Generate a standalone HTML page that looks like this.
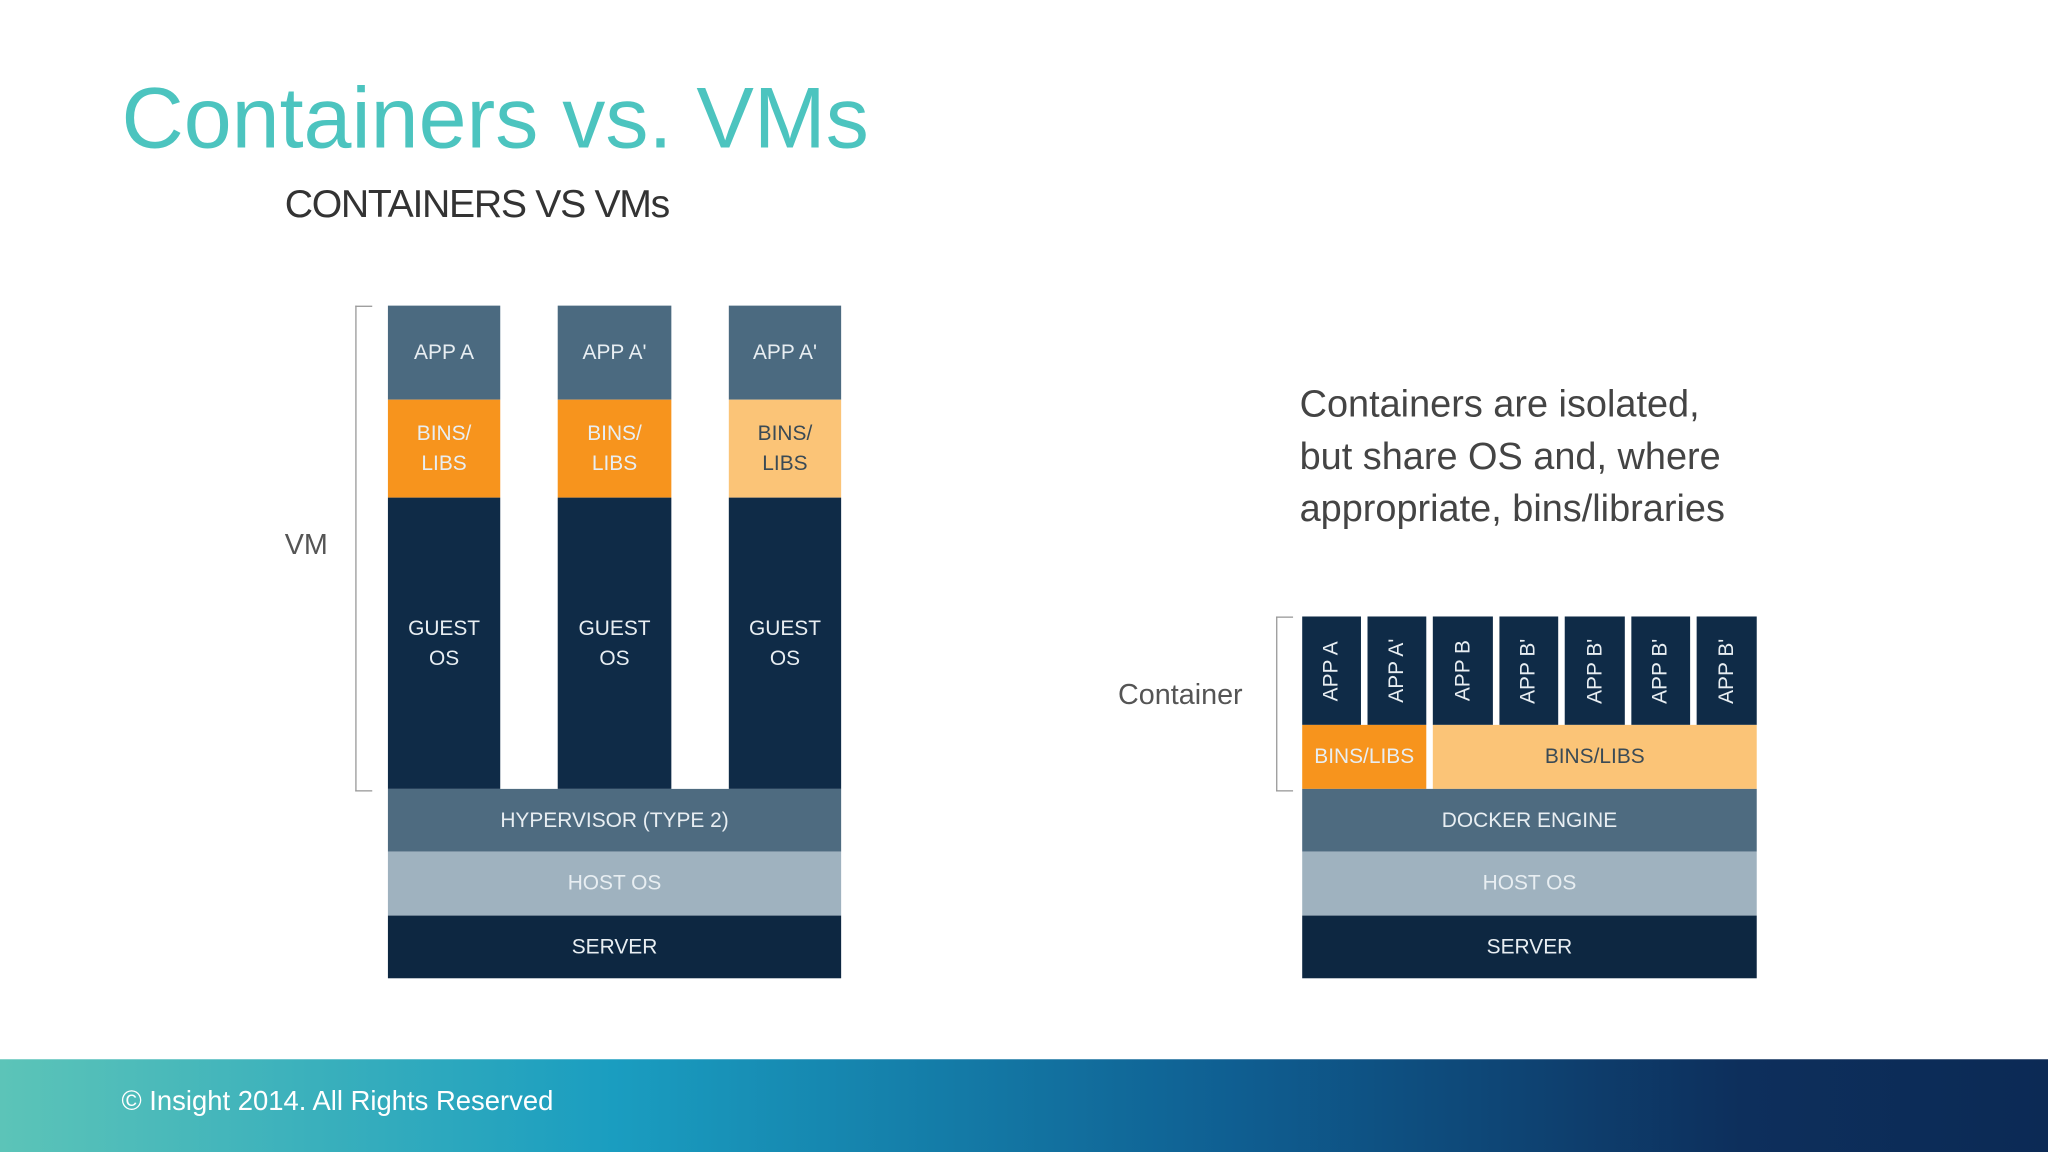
<!DOCTYPE html>
<html><head><meta charset="utf-8"><style>
html,body{margin:0;padding:0;width:2048px;height:1152px;overflow:hidden;background:#fff;}
#s{position:absolute;left:0;top:0;width:1568px;height:882px;transform:scale(1.30612);transform-origin:0 0;font-family:"Liberation Sans",sans-serif;}
.a{position:absolute;}
.b{position:absolute;display:flex;align-items:center;justify-content:center;text-align:center;color:#e8eef2;font-size:16px;line-height:23px;}
.app{background:#4b6a80;}
.bin{background:#f7941d;}
.binl{background:#fbc477;color:#3a4a55;}
.gos{background:#0f2b47;}
.v{writing-mode:vertical-rl;transform:rotate(180deg);}
</style></head><body>
<div id="s">
<div class="a" style="left:93px;top:52px;font-size:66px;color:#4cc4bf;">Containers vs. VMs</div>
<div class="a" style="left:218px;top:140px;font-size:30px;color:#333;letter-spacing:-1px;">CONTAINERS VS VMs</div>

<div class="a" style="left:272px;top:234px;width:12px;height:370px;border:1px solid #999;border-right:none;"></div>
<div class="a" style="left:218px;top:404px;font-size:22px;color:#555;">VM</div>

<div class="b app" style="left:297px;top:234px;width:86px;height:72px;">APP A</div>
<div class="b bin" style="left:297px;top:306px;width:86px;height:75px;">BINS/<br>LIBS</div>
<div class="b gos" style="left:297px;top:381px;width:86px;height:223px;">GUEST<br>OS</div>
<div class="b app" style="left:427px;top:234px;width:87px;height:72px;">APP A'</div>
<div class="b bin" style="left:427px;top:306px;width:87px;height:75px;">BINS/<br>LIBS</div>
<div class="b gos" style="left:427px;top:381px;width:87px;height:223px;">GUEST<br>OS</div>
<div class="b app" style="left:558px;top:234px;width:86px;height:72px;">APP A'</div>
<div class="b binl" style="left:558px;top:306px;width:86px;height:75px;">BINS/<br>LIBS</div>
<div class="b gos" style="left:558px;top:381px;width:86px;height:223px;">GUEST<br>OS</div>
<div class="b" style="left:297px;top:604px;width:347px;height:48px;background:#4e6b80;">HYPERVISOR (TYPE 2)</div>
<div class="b" style="left:297px;top:652px;width:347px;height:49px;background:#9fb2bf;">HOST OS</div>
<div class="b" style="left:297px;top:701px;width:347px;height:48px;background:#0d2741;">SERVER</div>

<div class="a" style="left:995px;top:290px;font-size:29px;line-height:40px;color:#444;">Containers are isolated,<br>but share OS and, where<br>appropriate, bins/libraries</div>

<div class="a" style="left:977px;top:472px;width:12px;height:132px;border:1px solid #999;border-right:none;"></div>
<div class="a" style="left:856px;top:519px;font-size:22px;color:#555;">Container</div>

<div class="b gos" style="left:997px;top:472px;width:45px;height:83px;"><span class="v">APP A</span></div>
<div class="b gos" style="left:1047px;top:472px;width:45px;height:83px;"><span class="v">APP A'</span></div>
<div class="b gos" style="left:1097px;top:472px;width:46px;height:83px;"><span class="v">APP B</span></div>
<div class="b gos" style="left:1148px;top:472px;width:45px;height:83px;"><span class="v">APP B'</span></div>
<div class="b gos" style="left:1198px;top:472px;width:46px;height:83px;"><span class="v">APP B'</span></div>
<div class="b gos" style="left:1249px;top:472px;width:45px;height:83px;"><span class="v">APP B'</span></div>
<div class="b gos" style="left:1299px;top:472px;width:46px;height:83px;"><span class="v">APP B'</span></div>
<div class="b bin" style="left:997px;top:555px;width:95px;height:49px;">BINS/LIBS</div>
<div class="b binl" style="left:1097px;top:555px;width:248px;height:49px;">BINS/LIBS</div>
<div class="b" style="left:997px;top:604px;width:348px;height:48px;background:#4e6b80;">DOCKER ENGINE</div>
<div class="b" style="left:997px;top:652px;width:348px;height:49px;background:#9fb2bf;">HOST OS</div>
<div class="b" style="left:997px;top:701px;width:348px;height:48px;background:#0d2741;">SERVER</div>

<div class="a" style="left:0;top:811px;width:1568px;height:71px;background:linear-gradient(90deg,#5cc4b8 0%,#1a9dc0 30%,#0f5f92 60%,#0d2f5c 85%,#0c2a55 100%);"></div>
<div class="a" style="left:93px;top:832px;font-size:21px;color:#fff;">© Insight 2014. All Rights Reserved</div>
</div>
</body></html>
